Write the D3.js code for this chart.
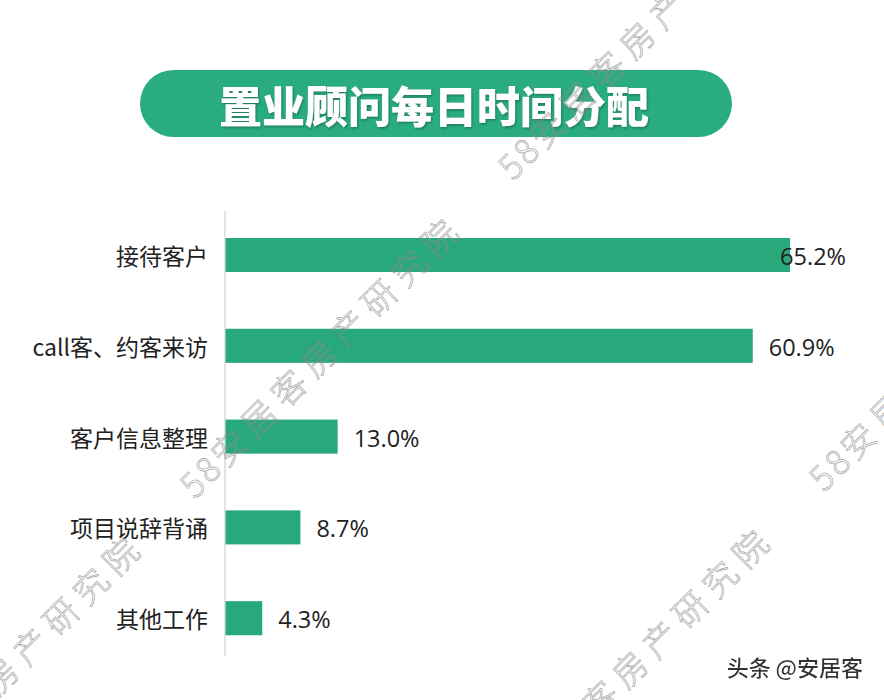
<!DOCTYPE html>
<html>
<head>
<meta charset="utf-8">
<script src="https://cdn.jsdelivr.net/npm/d3@7"></script>
<style>
  html, body { margin: 0; padding: 0; background: #ffffff; }
  svg { display: block; }
</style>
</head>
<body>
<div id="chart"></div>
<script>
const title = "置业顾问每日时间分配";
const categories = ["接待客户", "call客、约客来访", "客户信息整理", "项目说辞背诵", "其他工作"];
const values = [65.2, 60.9, 13.0, 8.7, 4.3];
const valueLabels = ["65.2%", "60.9%", "13.0%", "8.7%", "4.3%"];
const watermarkDigits = "58";
const watermarkName = "安居客房产研究院";
const creditText = "头条 @安居客";

const W = 884, H = 700;
const green = "#28a97b";
const cjk = "'Noto Sans CJK SC', 'Noto Sans', sans-serif";
const num = "'Open Sans', 'Noto Sans', sans-serif";

const svg = d3.select("#chart").append("svg")
  .attr("width", W).attr("height", H)
  .attr("viewBox", `0 0 ${W} ${H}`);

svg.append("rect").attr("width", W).attr("height", H).attr("fill", "#ffffff");

const defs = svg.append("defs");
const f = defs.append("filter").attr("id", "tshadow").attr("x", "-10%").attr("y", "-20%").attr("width", "120%").attr("height", "140%");
f.append("feDropShadow").attr("dx", 1).attr("dy", 1.5).attr("stdDeviation", 0.8)
  .attr("flood-color", "#0d4f38").attr("flood-opacity", 0.55);
const f2 = defs.append("filter").attr("id", "cshadow").attr("x", "-10%").attr("y", "-30%").attr("width", "120%").attr("height", "160%");
f2.append("feDropShadow").attr("dx", -0.8).attr("dy", -0.8).attr("stdDeviation", 0.3)
  .attr("flood-color", "#ffffff").attr("flood-opacity", 0.9);

// Title pill
svg.append("rect")
  .attr("x", 140).attr("y", 70).attr("width", 592).attr("height", 67)
  .attr("rx", 33.5).attr("ry", 33.5)
  .attr("fill", "#2aad7e");
svg.append("text")
  .attr("x", 434).attr("y", 104)
  .attr("text-anchor", "middle").attr("dominant-baseline", "central")
  .attr("font-family", cjk).attr("font-weight", 900).attr("font-size", 43)
  .attr("fill", "#ffffff")
  .attr("filter", "url(#tshadow)")
  .text(title);

// Scales
const x = d3.scaleLinear().domain([0, 70]).range([225, 831.6]);
const y = d3.scaleBand().domain(categories).range([209.6, 663.6])
  .paddingInner(0.625).paddingOuter(0.3125);

// Vertical axis line
svg.append("line")
  .attr("x1", x(0)).attr("x2", x(0))
  .attr("y1", 211).attr("y2", 656)
  .attr("stroke", "#c8c8c8").attr("stroke-width", 1);

// Bars
svg.append("g").selectAll("rect").data(categories).join("rect")
  .attr("x", x(0) + 0.5)
  .attr("y", d => y(d))
  .attr("width", (d, i) => x(values[i]) - x(0) - 0.5)
  .attr("height", y.bandwidth())
  .attr("fill", green);

// Category labels
svg.append("g").selectAll("text").data(categories).join("text")
  .attr("x", 208)
  .attr("y", d => y(d) + y.bandwidth() / 2)
  .attr("text-anchor", "end").attr("dominant-baseline", "central")
  .attr("font-family", cjk).attr("font-size", 23)
  .attr("fill", "#222222")
  .text(d => d);

// Value labels
const maxRight = 846;
svg.append("g").selectAll("text").data(categories).join("text")
  .attr("y", d => y(d) + y.bandwidth() / 2 + 1)
  .attr("dominant-baseline", "central")
  .attr("font-family", num).attr("font-size", 23.5)
  .attr("fill", "#222222")
  .text((d, i) => valueLabels[i])
  .each(function(d, i) {
    const w = this.getComputedTextLength();
    let px = x(values[i]) + 16;
    if (px + w > maxRight) px = maxRight - w;
    d3.select(this).attr("x", px);
  });

// Watermarks
const wm = svg.append("g")
  .attr("transform", "translate(195,500) rotate(-45)")
  .attr("pointer-events", "none");
const tiles = [[-1, 0], [0, 0], [1, 0], [0, 1], [1, 1]];
const wt = wm.selectAll("text").data(tiles).join("text")
  .attr("x", d => d[0] * 450)
  .attr("y", d => d[1] * 440)
  .attr("font-family", cjk).attr("font-size", 34)
  .attr("font-weight", 300)
  .attr("fill", "none")
  .attr("stroke", "#8c8c8c").attr("stroke-width", 0.7).attr("stroke-opacity", 0.8);
wt.append("tspan").attr("letter-spacing", 3.5).text(watermarkDigits);
wt.append("tspan").attr("letter-spacing", 8.5).text(watermarkName);

// Credit
svg.append("text")
  .attr("x", 863).attr("y", 676)
  .attr("text-anchor", "end")
  .attr("font-family", cjk).attr("font-size", 22).attr("font-weight", 500)
  .attr("fill", "#333333")
  .attr("filter", "url(#cshadow)")
  .text(creditText);
</script>
</body>
</html>
